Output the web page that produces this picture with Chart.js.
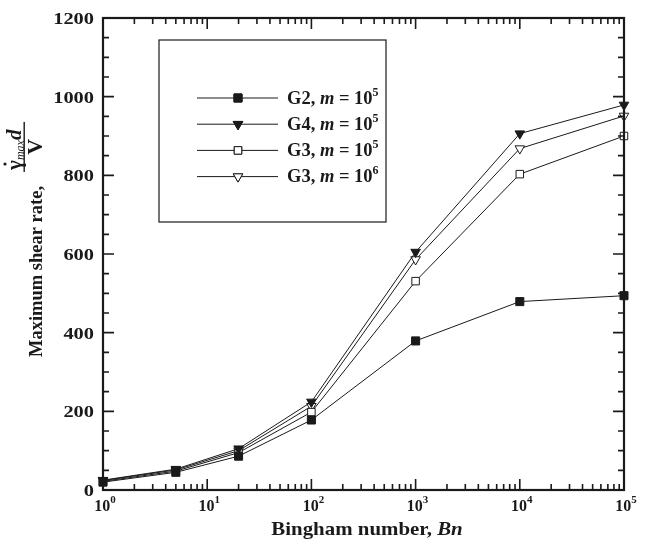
<!DOCTYPE html>
<html>
<head>
<meta charset="utf-8">
<script src="https://cdn.jsdelivr.net/npm/chart.js@4"></script>
<style>
  body { margin: 0; background: #fff; }
  #wrap { width: 650px; height: 551px; }
</style>
</head>
<body>
<div id="wrap"><canvas id="shearChart" width="650" height="551"></canvas></div>
<script>
// Bingham numbers (x) and maximum shear rate for each case
const bn = [1, 5, 20, 100, 1000, 10000, 100000];
const g2m5 = [20, 45, 86, 178, 379, 479, 494];
const g4m5 = [25, 53, 105, 224, 605, 906, 979];
const g3m5 = [22, 48, 95, 198, 531, 803, 900];
const g3m6 = [24, 51, 100, 213, 586, 868, 951];

const xTickExps = [0, 1, 2, 3, 4, 5];
const yTickLabels = [0, 200, 400, 600, 800, 1000, 1200];

const SERIF = '"Liberation Serif", "Times New Roman", serif';
const INK = '#1a1a1a';

function pts(ys) {
    return bn.map((x, i) => ({ x: x, y: ys[i] }));
}

const series = [
    { name: 'G2', exp: '5', data: g2m5, style: 'rect', radius: 5.7, fill: INK, rot: 0 },
    { name: 'G4', exp: '5', data: g4m5, style: 'triangle', radius: 5.5, fill: INK, rot: 180 },
    { name: 'G3', exp: '5', data: g3m5, style: 'rect', radius: 5.3, fill: '#fff', rot: 0 },
    { name: 'G3', exp: '6', data: g3m6, style: 'triangle', radius: 5.5, fill: '#fff', rot: 180 }
];

// text pieces: [text, font, dy]
function textWidth(ctx, runs) {
    let w = 0;
    runs.forEach(r => { ctx.font = r[1]; w += ctx.measureText(r[0]).width; });
    return w;
}
function drawRuns(ctx, x, y, runs) {
    ctx.textAlign = 'left';
    ctx.textBaseline = 'alphabetic';
    runs.forEach(r => {
        ctx.font = r[1];
        ctx.fillText(r[0], x, y + (r[2] || 0));
        x += ctx.measureText(r[0]).width;
    });
    return x;
}
// same, but stretched horizontally by sx
function drawRunsWide(ctx, x, y, runs, sx) {
    ctx.save();
    ctx.translate(x, y);
    ctx.scale(sx, 1);
    drawRuns(ctx, 0, 0, runs);
    ctx.restore();
}

const B16 = 'bold 16px ' + SERIF;
const B11 = 'bold 11px ' + SERIF;
const B17 = 'bold 17px ' + SERIF;
const B185 = 'bold 18.5px ' + SERIF;
const BI185 = 'italic bold 18.5px ' + SERIF;
const B19 = 'bold 19px ' + SERIF;
const BI19 = 'italic bold 19px ' + SERIF;
const B12 = 'bold 12px ' + SERIF;

const framePlugin = {
    id: 'framePlugin',
    afterDraw(chart) {
        const ctx = chart.ctx;
        const a = chart.chartArea;
        const xs = chart.scales.x;
        const ys = chart.scales.y;
        ctx.save();
        ctx.strokeStyle = INK;
        ctx.fillStyle = INK;

        // frame
        ctx.lineWidth = 2.2;
        ctx.strokeRect(a.left, a.top, a.right - a.left, a.bottom - a.top);

        // inward ticks on all four sides
        ctx.lineWidth = 1.6;
        ctx.beginPath();
        for (let v = 0; v <= 1200; v += 50) {
            const py = ys.getPixelForValue(v);
            const len = v % 200 === 0 ? 11 : 6;
            ctx.moveTo(a.left, py); ctx.lineTo(a.left + len, py);
            ctx.moveTo(a.right, py); ctx.lineTo(a.right - len, py);
        }
        for (let e = 0; e < 5; e++) {
            for (let m = 1; m <= 9; m++) {
                const px = xs.getPixelForValue(m * Math.pow(10, e));
                const len = m === 1 ? 11 : 6;
                ctx.moveTo(px, a.bottom); ctx.lineTo(px, a.bottom - len);
                ctx.moveTo(px, a.top); ctx.lineTo(px, a.top + len);
            }
        }
        const pxEnd = xs.getPixelForValue(1e5);
        ctx.moveTo(pxEnd, a.bottom); ctx.lineTo(pxEnd, a.bottom - 11);
        ctx.stroke();

        // y tick labels (a bit wide, like the original)
        yTickLabels.forEach(v => {
            const runs = [[String(v), B17, 0]];
            const w = textWidth(ctx, runs) * 1.2;
            drawRunsWide(ctx, a.left - 9 - w, ys.getPixelForValue(v) + 6, runs, 1.2);
        });

        // x tick labels 10^n
        xTickExps.forEach(e => {
            const px = xs.getPixelForValue(Math.pow(10, e));
            const runs = [['10', B16, 0], [String(e), B11, -8]];
            const w = textWidth(ctx, runs);
            drawRuns(ctx, px - w / 2 + 2, a.bottom + 21, runs);
        });

        // x axis title
        const xt = [['Bingham number, ', B19, 0], ['Bn', BI19, 0]];
        const xw = textWidth(ctx, xt) * 1.1;
        drawRunsWide(ctx, 367 - xw / 2, a.bottom + 45, xt, 1.1);

        // y axis title (rotated), with fraction
        ctx.save();
        ctx.translate(42, 357);
        ctx.rotate(-Math.PI / 2);
        const mainEnd = drawRuns(ctx, 0, 0, [['Maximum shear rate,', B185, 0]]);
        const fx = mainEnd + 14;
        const num = [
            ['\u03B3', 'bold 21px ' + SERIF, 0],
            ['max', 'italic 12px ' + SERIF, 3],
            ['d', 'italic bold 21px ' + SERIF, 0]
        ];
        const nw = textWidth(ctx, num);
        const barLen = Math.max(50, nw + 4);
        drawRuns(ctx, fx + 2, -21, num);
        // dot over gamma
        ctx.font = 'bold 21px ' + SERIF;
        const gw = ctx.measureText('\u03B3').width;
        ctx.beginPath();
        ctx.arc(fx + 2 + gw / 2 + 1, -37, 1.6, 0, Math.PI * 2);
        ctx.fill();
        ctx.fillRect(fx, -18.5, barLen, 1.4);
        ctx.font = 'bold 22px ' + SERIF;
        const vw = ctx.measureText('V').width;
        ctx.fillText('V', fx + barLen / 2 - vw / 2, 0);
        ctx.restore();

        // legend box
        ctx.lineWidth = 1.2;
        ctx.strokeRect(159, 40, 227, 182);
        series.forEach((s, i) => {
            const ly = 98 + i * 26.2;
            ctx.lineWidth = 1;
            ctx.strokeStyle = INK;
            ctx.beginPath();
            ctx.moveTo(197, ly); ctx.lineTo(278, ly);
            ctx.stroke();
            ctx.fillStyle = s.fill;
            Chart.helpers.drawPoint(ctx, { pointStyle: s.style, radius: s.radius, rotation: s.rot, borderWidth: 1 }, 238, ly);
            ctx.fill();
            ctx.stroke();
            ctx.fillStyle = INK;
            drawRuns(ctx, 287, ly + 5.5, [
                [s.name + ', ', B185, 0], ['m', BI185, 0], [' = 10', B185, 0], [s.exp, B12, -8]
            ]);
        });
        ctx.restore();
    }
};

const ctx = document.getElementById('shearChart').getContext('2d');
new Chart(ctx, {
    type: 'line',
    data: {
        datasets: series.map(s => ({
            label: s.name,
            data: pts(s.data),
            borderColor: INK,
            borderWidth: 1,
            backgroundColor: s.fill,
            pointStyle: s.style,
            pointRadius: s.radius,
            pointRotation: s.rot,
            pointBorderColor: INK,
            pointBorderWidth: 1,
            pointBackgroundColor: s.fill,
            tension: 0,
            clip: false
        }))
    },
    options: {
        responsive: false,
        animation: false,
        events: [],
        layout: { padding: { left: 103, right: 26, top: 18, bottom: 61 } },
        plugins: { legend: { display: false }, tooltip: { enabled: false } },
        scales: {
            x: { type: 'logarithmic', min: 1, max: 100000, display: false },
            y: { type: 'linear', min: 0, max: 1200, display: false }
        }
    },
    plugins: [framePlugin]
});
</script>
</body>
</html>
